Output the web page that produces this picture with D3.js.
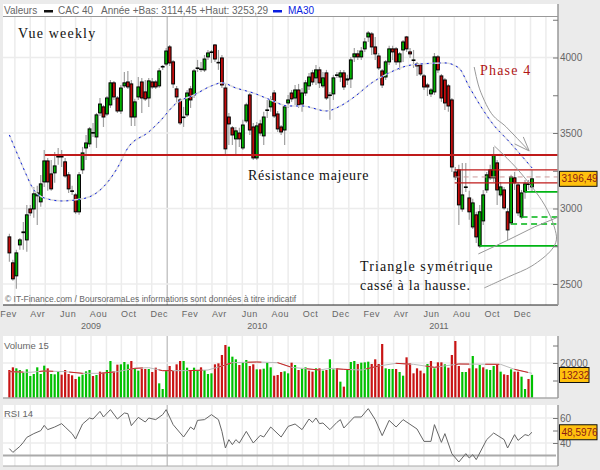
<!DOCTYPE html>
<html lang="fr">

<head>
    <meta charset="UTF-8">
    <title>CAC 40 - Vue weekly</title>
    <script src="https://cdnjs.cloudflare.com/ajax/libs/d3/7.8.5/d3.min.js"></script>
    <style>
        html, body { margin: 0; padding: 0; background: #ebebeb; }
        svg { display: block; }
        text { font-family: "Liberation Sans", Arial, sans-serif; fill: #666; }
        .note { font-family: "Liberation Serif", serif; font-size: 14px; fill: #111; }
        .axis path { display: none; }
        .axis line { stroke: #777; }
        .axis text { font-size: 10px; fill: #666; }
        .month text { font-size: 9px; letter-spacing: 0.5px; }
        .grid { stroke: #ececec; stroke-width: 1.5; }
        .wick { stroke: #a0a0a0; stroke-width: 1.2; }
        .body { stroke: #000; stroke-width: 1; }
        .hand { fill: none; stroke: #999; stroke-width: 1; }
    </style>
</head>

<body>
    <div id="chart"></div>

    <script>
        // bougies hebdo, une valeur par semaine depuis le 18 fev 2009
        const firstWeek = new Date(2009, 1, 18);
        const opens = [2812, 2640, 2554, 2759, 2840, 2792, 2997, 2997, 3084, 3044, 3176, 3315, 3229, 3236, 3342, 3345, 3309, 3223, 3117, 3090, 2978, 3256, 3401, 3428, 3500, 3474, 3633, 3673, 3626, 3686, 3832, 3732, 3646, 3812, 3838, 3825, 3606, 3739, 3838, 3772, 3732, 3838, 3838, 3812, 3938, 3957, 4070, 3971, 3792, 3719, 3606, 3620, 3792, 3752, 3931, 3924, 3918, 4004, 4037, 4083, 3968, 3997, 3798, 3606, 3534, 3461, 3500, 3401, 3580, 3752, 3540, 3335, 3560, 3481, 3653, 3673, 3765, 3626, 3540, 3520, 3699, 3765, 3732, 3785, 3692, 3765, 3812, 3898, 3865, 3918, 3812, 3898, 3752, 3759, 3885, 3871, 3898, 3851, 3858, 4004, 4024, 4004, 4057, 4136, 4156, 4070, 4010, 3911, 3871, 3971, 4057, 4057, 3971, 4050, 4136, 4037, 3984, 3957, 3951, 3878, 3818, 3759, 3772, 4004, 3878, 3851, 3812, 3719, 3242, 3256, 2997, 3143, 3070, 2878, 2958, 2752, 2918, 3123, 3256, 3203, 3302, 3090, 3123, 2978, 2905, 3203, 3156, 2944, 3110, 3163, 3143];
        const highs = [2832, 2660, 2726, 2805, 2911, 3024, 3024, 3143, 3150, 3222, 3388, 3335, 3322, 3375, 3401, 3388, 3335, 3242, 3150, 3103, 3242, 3408, 3487, 3540, 3567, 3633, 3732, 3686, 3745, 3851, 3845, 3745, 3818, 3904, 3911, 3851, 3726, 3871, 3865, 3851, 3865, 3865, 3851, 3931, 3951, 4063, 4083, 3984, 3812, 3732, 3673, 3785, 3812, 3924, 3984, 3971, 4017, 4050, 4050, 4090, 4050, 4017, 3825, 3633, 3547, 3540, 3534, 3587, 3700, 3765, 3567, 3573, 3587, 3640, 3719, 3745, 3785, 3646, 3553, 3686, 3752, 3785, 3818, 3825, 3798, 3851, 3898, 3918, 3951, 3938, 3904, 3918, 3772, 3885, 3904, 3918, 3918, 3885, 4004, 4063, 4050, 4070, 4129, 4176, 4169, 4136, 4030, 3924, 3984, 4077, 4077, 4070, 4037, 4116, 4143, 4063, 4050, 3971, 3964, 3891, 3832, 3798, 4030, 4017, 3891, 3865, 3825, 3732, 3275, 3289, 3302, 3302, 3117, 3064, 2978, 3024, 3123, 3242, 3289, 3408, 3322, 3176, 3143, 3004, 3223, 3242, 3170, 3123, 3189, 3189, 3253];
        const lows = [2647, 2521, 2468, 2726, 2726, 2713, 2951, 2938, 2891, 3011, 3143, 3117, 3117, 3170, 3289, 3275, 3203, 3103, 3090, 2964, 2958, 3229, 3322, 3408, 3474, 3401, 3613, 3540, 3613, 3666, 3719, 3633, 3626, 3798, 3792, 3547, 3547, 3719, 3633, 3712, 3673, 3792, 3792, 3798, 3918, 3944, 3944, 3798, 3706, 3553, 3540, 3606, 3666, 3732, 3904, 3904, 3904, 3984, 3964, 3971, 3918, 3798, 3355, 3421, 3421, 3355, 3408, 3388, 3567, 3487, 3322, 3322, 3481, 3421, 3600, 3640, 3600, 3507, 3487, 3421, 3666, 3706, 3686, 3666, 3640, 3745, 3785, 3818, 3818, 3798, 3798, 3719, 3587, 3719, 3865, 3838, 3785, 3818, 3798, 3971, 3984, 3984, 4037, 4103, 4017, 3984, 3918, 3798, 3851, 3951, 3984, 3951, 3918, 3971, 4037, 3997, 3931, 3878, 3878, 3785, 3745, 3739, 3752, 3898, 3706, 3653, 3640, 3242, 3189, 2891, 2978, 3110, 2925, 2865, 2772, 2739, 2891, 3103, 3189, 3176, 3024, 3077, 2991, 2792, 2891, 3123, 2951, 2931, 3064, 3123, 3114];
        const closes = [2706, 2534, 2706, 2792, 2845, 2958, 2971, 3097, 3103, 3163, 3315, 3176, 3130, 3282, 3345, 3342, 3216, 3130, 3114, 2978, 3223, 3368, 3434, 3527, 3503, 3620, 3692, 3606, 3732, 3832, 3739, 3646, 3798, 3832, 3805, 3606, 3706, 3805, 3732, 3726, 3845, 3805, 3805, 3911, 3941, 4043, 3964, 3825, 3739, 3567, 3606, 3765, 3719, 3911, 3931, 3924, 3990, 4030, 4037, 3990, 3964, 3818, 3395, 3560, 3487, 3514, 3461, 3553, 3686, 3520, 3335, 3547, 3500, 3606, 3653, 3719, 3613, 3527, 3507, 3673, 3719, 3726, 3785, 3686, 3765, 3832, 3871, 3838, 3918, 3832, 3865, 3732, 3752, 3865, 3885, 3898, 3805, 3858, 3984, 4024, 4004, 4043, 4103, 4162, 4070, 4024, 3931, 3818, 3971, 4057, 4037, 3971, 4024, 4103, 4057, 4024, 3984, 3944, 3891, 3805, 3805, 3785, 4004, 3918, 3732, 3699, 3679, 3275, 3209, 3024, 3090, 3143, 2978, 3037, 2812, 2978, 3090, 3223, 3203, 3355, 3123, 3143, 3004, 2858, 3209, 3170, 2971, 3103, 3163, 3163, 3196.49];

        // MA30 relevee sur quelques semaines
        const maWeeks = [0, 3, 4.5, 7, 10, 15, 21, 25, 28, 31, 34, 40, 43, 48, 53, 58, 61, 65, 70, 75, 80, 84, 91, 95, 99, 104, 109, 114, 118, 125, 129, 132, 135.4, 139, 143, 150];
        const maValues = [3487, 3322, 3242, 3123, 3070, 3050, 3064, 3103, 3169, 3269, 3401, 3507, 3573, 3699, 3752, 3812, 3832, 3798, 3765, 3719, 3679, 3679, 3646, 3679, 3739, 3832, 3898, 3944, 3957, 3964, 3931, 3805, 3673, 3553, 3454, 3269];

        const volumes = [16000, 17530, 16955, 16000, 14480, 16380, 12570, 13720, 17530, 13720, 18480, 16955, 13720, 13525, 15240, 13335, 16000, 13720, 12950, 10860, 12190, 13335, 15240, 16000, 12570, 13145, 15050, 14480, 16000, 21145, 15240, 19050, 19240, 20575, 19240, 21145, 16955, 15620, 16575, 16575, 16575, 14860, 17335, 8380, 5145, 15620, 18290, 15620, 19240, 21145, 21145, 17335, 15620, 17335, 15620, 17530, 16000, 13720, 14100, 19240, 19810, 24575, 30290, 29340, 23620, 22100, 18860, 20385, 21720, 18290, 19240, 16380, 16380, 16765, 20190, 17530, 12760, 13145, 14860, 15240, 14100, 20190, 18860, 16000, 16765, 17530, 15620, 15050, 16955, 16955, 15620, 16000, 22100, 16380, 16955, 9335, 6480, 16000, 20575, 21145, 19430, 20190, 20385, 20765, 19430, 22100, 19430, 30860, 16955, 16575, 16575, 16575, 14860, 12760, 23240, 19810, 14100, 16955, 15620, 14100, 19430, 21145, 16955, 20385, 20385, 19240, 17335, 24575, 32575, 18290, 14860, 14860, 16955, 24000, 16955, 18860, 17530, 16380, 16000, 18290, 18860, 15050, 13525, 13145, 16380, 15050, 15050, 12190, 5145, 10860, 13232];
        const volumeUp = [0, 0, 1, 1, 1, 1, 1, 1, 1, 1, 1, 0, 1, 1, 1, 0, 0, 0, 0, 0, 1, 1, 1, 1, 0, 1, 0, 0, 1, 1, 0, 0, 1, 1, 1, 0, 1, 1, 0, 0, 1, 0, 0, 1, 1, 1, 0, 0, 0, 0, 1, 1, 0, 1, 1, 0, 1, 1, 1, 0, 0, 0, 0, 1, 1, 1, 0, 1, 1, 0, 0, 1, 0, 1, 1, 1, 0, 0, 0, 1, 1, 0, 1, 0, 1, 1, 0, 0, 1, 0, 1, 0, 1, 1, 0, 1, 0, 1, 1, 1, 0, 1, 1, 1, 0, 0, 0, 0, 1, 1, 1, 0, 1, 1, 0, 0, 0, 0, 0, 0, 1, 0, 1, 0, 0, 1, 0, 0, 0, 0, 1, 1, 0, 1, 0, 1, 0, 1, 1, 1, 0, 1, 0, 0, 1, 0, 0, 1, 1, 0, 1];
        const volMaWeeks = [0, 6, 10, 16, 21, 26, 31, 36, 40, 44, 51, 57, 61, 64, 71, 77, 81, 84, 89, 92, 96, 101, 106, 111, 116, 122, 129, 141, 145, 150];
        const volMaValues = [15050, 14670, 15430, 15050, 14100, 14100, 15050, 16955, 17335, 15620, 15620, 16000, 18290, 20190, 20575, 20190, 17530, 16955, 16000, 16955, 16380, 16000, 18290, 19810, 19240, 17530, 19430, 19240, 16380, 14100];

        const rsiWeeks = [0, 1, 3, 4, 5, 7, 9, 10, 11, 13, 15, 16, 18, 19, 21, 23, 24, 26, 27, 29, 31, 33, 34, 35, 37, 39, 40, 42, 44, 45, 47, 50, 52, 53, 54, 56, 58, 60, 61, 62, 63, 64, 65, 66, 68, 70, 72, 73, 75, 78, 80, 82, 84, 86, 87, 88, 89, 90, 92, 94, 95, 96, 99, 101, 103, 105, 107, 109, 111, 113, 117, 119, 121, 122, 124, 125, 127, 129, 131, 132, 133, 134, 137, 139, 142, 143, 145, 146, 148, 149, 150];
        const rsiValues = [35.5, 32.5, 37.3, 40.5, 44.5, 47.5, 49.9, 54.1, 50.7, 52.8, 55.5, 52.8, 47.5, 43.2, 55.2, 60, 59.2, 65.3, 60.8, 66.7, 59.2, 64, 63.5, 53.9, 60.5, 56.8, 60, 58.7, 62.7, 66.7, 54.7, 44.8, 52.8, 50.7, 58.1, 58.7, 62.7, 58.7, 49.3, 36, 42.7, 38.7, 42.7, 40, 49.3, 40, 46.1, 44.8, 52.8, 44.8, 53.3, 55.2, 50.7, 59.2, 56.5, 60, 55.5, 56, 50.7, 56.5, 58.7, 52, 60.8, 60.8, 67.5, 58.7, 45.9, 58.1, 52.8, 58.7, 51.2, 41.3, 41.3, 54.7, 40.5, 47.5, 31.5, 24.8, 31.5, 28, 30.7, 26.7, 42.7, 48, 42.7, 36, 46.7, 42.1, 46.7, 45.9, 48.6];

        const priceTicks = [2500, 2750, 3000, 3250, 3500, 3750, 4000, 4250];
        const volumeTicks = [10000, 20000, 30000];
        const rsiTicks = [40, 50, 60];
        const monthNames = ["Jan", "Fev", "Mar", "Avr", "Mai", "Jun", "Jul", "Aou", "Sep", "Oct", "Nov", "Dec"];
        const years = [2009, 2010, 2011];
        const yearLabelMonths = [7, 6, 6];

        // traits a la main : [semaine debut, semaine fin, niveau]
        const redLevels = [[10.2, 160, 3355], [127.8, 160, 3256], [127.8, 160, 3170]];
        const pinkDashed = [[127.8, 160, 3209]];
        const greenLevels = [[135.1, 160, 2752], [148, 160, 3110]];
        const greenDashed = [[147, 160, 2944], [144, 157, 2898]];
        const phaseArrowWeeks = [133.4, 134.6, 136, 137.7, 142.6, 148.9];
        const phaseArrowPrices = [3937, 3818, 3732, 3653, 3540, 3388];
        const arrowHeadWeeks = [147.5, 149.2, 145];
        const arrowHeadPrices = [3474, 3381, 3428];
        const calloutWeeks = [139.2, 146, 153.6, 156.4, 157, 155.6, 150, 143.2, 136.3];
        const calloutPrices = [3414, 3256, 3024, 2878, 2792, 2726, 2620, 2547, 2474];
        const triangleWeeks = [134.6, 143.2, 150.7, 157.6];
        const trianglePrices = [2699, 2792, 2878, 2944];

        const width = 600, height = 470;
        const left = 3, right = 558;
        const mainTop = 17, mainBottom = 305;
        const volTop = 336, volBottom = 398;
        const rsiTop = 405, rsiBottom = 466;

        const upColor = "#00b400", downColor = "#c40c0c", lineRed = "#bf1a1a";

        const svg = d3.select("#chart").append("svg")
            .attr("width", width)
            .attr("height", height);

        const x = d3.scaleTime()
            .domain([new Date(2009, 0, 1), new Date(2012, 0, 1)])
            .range([-14.5, 530.5]);
        const weekDate = i => new Date(firstWeek.getTime() + i * 7 * 864e5);
        const xw = i => x(weekDate(i));

        const y = d3.scaleLinear().domain([2500, 4000]).range([284, 57.5]);
        const yVol = d3.scaleLinear().domain([0, 20000]).range([volBottom, 363]);
        const yRsi = d3.scaleLinear().domain([40, 60]).range([443, 418]);

        const defs = svg.append("defs");
        [["clip-main", 4, mainBottom], ["clip-vol", volTop, volBottom], ["clip-rsi", rsiTop, rsiBottom]].forEach(c => {
            defs.append("clipPath").attr("id", c[0]).append("rect")
                .attr("x", left).attr("y", c[1])
                .attr("width", right - left).attr("height", c[2] - c[1]);
        });

        // fonds blancs
        svg.append("rect").attr("x", left).attr("y", 4).attr("width", right - left).attr("height", mainBottom - 4).attr("fill", "#fff");
        svg.append("rect").attr("x", left).attr("y", volTop).attr("width", right - left).attr("height", volBottom - volTop).attr("fill", "#fff");
        svg.append("rect").attr("x", left).attr("y", rsiTop).attr("width", right - left).attr("height", rsiBottom - rsiTop).attr("fill", "#fff");

        // quadrillage vertical mensuel sur les trois panneaux
        const months = x.copy().domain([new Date(2009, 1, 1), new Date(2012, 1, 1)]).ticks(d3.timeMonth.every(1))
            .filter(d => x(d) > left && x(d) < right);
        [[mainTop, mainBottom], [volTop, volBottom], [rsiTop, rsiBottom]].forEach(p => {
            svg.append("g").selectAll("line").data(months).enter().append("line")
                .attr("class", "grid")
                .attr("x1", d => x(d)).attr("x2", d => x(d))
                .attr("y1", p[0]).attr("y2", p[1])
                .style("stroke", d => d.getFullYear() === 2010 && d.getMonth() === 0 ? "#aaa" : null)
                .style("stroke-width", d => d.getFullYear() === 2010 && d.getMonth() === 0 ? 1 : null);
        });

        // quadrillage horizontal
        const hGrid = (scale, values) => svg.append("g").selectAll("line").data(values).enter().append("line")
            .attr("class", "grid")
            .attr("x1", left).attr("x2", right)
            .attr("y1", d => scale(d)).attr("y2", d => scale(d));
        hGrid(y, [2500, 3000, 3500, 4000]);
        hGrid(yVol, [20000]);
        hGrid(yRsi, [40, 60]);

        // bougies
        const candles = svg.append("g").attr("clip-path", "url(#clip-main)")
            .selectAll("g").data(opens).enter().append("g");
        candles.append("line")
            .attr("class", "wick")
            .attr("x1", (d, i) => xw(i)).attr("x2", (d, i) => xw(i))
            .attr("y1", (d, i) => y(highs[i])).attr("y2", (d, i) => y(lows[i]));
        candles.append("rect")
            .attr("class", "body")
            .attr("x", (d, i) => xw(i) - 1.4)
            .attr("width", 2.8)
            .attr("y", (d, i) => y(Math.max(opens[i], closes[i])))
            .attr("height", (d, i) => Math.max(0.6, Math.abs(y(opens[i]) - y(closes[i]))))
            .attr("fill", (d, i) => closes[i] >= opens[i] ? upColor : downColor);

        const lineOf = (scale, weeks) => d3.line()
            .x((d, i) => xw(weeks[i]))
            .y(d => scale(d));

        // MA30
        const main = svg.append("g").attr("clip-path", "url(#clip-main)");
        main.append("path").datum(maValues)
            .attr("d", lineOf(y, maWeeks).curve(d3.curveMonotoneX))
            .attr("fill", "none").attr("stroke", "#ddd").attr("stroke-width", 1.5);
        main.append("path").datum(maValues)
            .attr("d", lineOf(y, maWeeks).curve(d3.curveMonotoneX))
            .attr("fill", "none").attr("stroke", "#0a1ee0").attr("stroke-width", 1)
            .attr("stroke-dasharray", "2 4");

        // traces manuels
        const level = (sel, rows, color, w, dash) => sel.append("g").selectAll("line").data(rows).enter().append("line")
            .attr("x1", d => xw(d[0])).attr("x2", d => xw(d[1]))
            .attr("y1", d => y(d[2])).attr("y2", d => y(d[2]))
            .attr("stroke", color).attr("stroke-width", w)
            .attr("stroke-dasharray", dash);
        level(main, redLevels.slice(0, 1), lineRed, 2, null);
        level(main, redLevels.slice(1), lineRed, 1.2, null);
        level(main, pinkDashed, "#c99", 1, "5 4");
        level(main, greenLevels, "#00b414", 1.8, null);
        level(main, greenDashed, "#00b414", 1.5, "6 4");

        main.append("path").datum(phaseArrowPrices).attr("class", "hand")
            .attr("d", lineOf(y, phaseArrowWeeks).curve(d3.curveMonotoneX));
        main.append("path").datum(arrowHeadPrices).attr("class", "hand")
            .attr("d", lineOf(y, arrowHeadWeeks));
        main.append("path").datum(calloutPrices).attr("class", "hand")
            .attr("d", lineOf(y, calloutWeeks).curve(d3.curveCatmullRom));
        main.append("path").datum(trianglePrices).attr("class", "hand")
            .attr("d", lineOf(y, triangleWeeks));

        // volume
        const vol = svg.append("g").attr("clip-path", "url(#clip-vol)");
        vol.selectAll("rect").data(volumes).enter().append("rect")
            .attr("x", (d, i) => xw(i) - 1.1)
            .attr("width", 2.2)
            .attr("y", d => yVol(d))
            .attr("height", d => yVol(0) - yVol(d))
            .attr("fill", (d, i) => volumeUp[i] ? "#00c000" : "#c81414");
        vol.append("path").datum(volMaValues)
            .attr("d", lineOf(yVol, volMaWeeks))
            .attr("fill", "none").attr("stroke", "#bbb").attr("stroke-width", 1);
        vol.append("path").datum(volMaValues)
            .attr("d", lineOf(yVol, volMaWeeks))
            .attr("fill", "none").attr("stroke", "#cc2222").attr("stroke-width", 1)
            .attr("stroke-dasharray", "14 16");

        // RSI
        const rsi = svg.append("g").attr("clip-path", "url(#clip-rsi)");
        rsi.append("line")
            .attr("x1", left).attr("x2", right - 2)
            .attr("y1", yRsi(30)).attr("y2", yRsi(30))
            .attr("stroke", "#aaa").attr("stroke-width", 2);
        rsi.append("path").datum(rsiValues)
            .attr("d", lineOf(yRsi, rsiWeeks))
            .attr("fill", "none").attr("stroke", "#666").attr("stroke-width", 1);

        // bords des panneaux
        const edge = (x1, x2, y1, y2, color, w) => svg.append("line")
            .attr("x1", x1).attr("x2", x2).attr("y1", y1).attr("y2", y2)
            .attr("stroke", color).attr("stroke-width", w);
        edge(left, right, mainTop - 0.5, mainTop - 0.5, "#999", 1);
        edge(left, right, mainBottom, mainBottom, "#222", 1);
        edge(left, right, volBottom, volBottom, "#aaa", 1.5);
        edge(left, right, rsiBottom, rsiBottom, "#aaa", 1);
        [[4, mainBottom], [volTop, volBottom], [rsiTop, rsiBottom]].forEach(p => edge(right, right, p[0], p[1], "#999", 1.5));

        // axes de droite
        const rightAxis = (scale, values, labels) => svg.append("g")
            .attr("class", "axis")
            .attr("transform", `translate(${right},0)`)
            .call(d3.axisRight(scale).tickValues(values).tickSize(-5).tickPadding(2)
                .tickFormat(d => labels.includes(d) ? d : ""));
        rightAxis(y, priceTicks, [2500, 3000, 3500, 4000]);
        rightAxis(yVol, volumeTicks, [20000]);
        rightAxis(yRsi, rsiTicks, [40, 60]);

        // axe du temps, libelle au milieu du mois
        const labelMonths = d3.range(0, 36, 2).map(k => new Date(2009, 1 + k, 15))
            .filter(d => x(d) < 530);
        svg.append("g")
            .attr("class", "axis month")
            .attr("transform", `translate(0,${mainBottom})`)
            .call(d3.axisBottom(x).tickValues(labelMonths).tickSize(0).tickPadding(6)
                .tickFormat(d => monthNames[d.getMonth()]));
        svg.append("g").selectAll("text").data(years).enter().append("text")
            .attr("x", (d, i) => x(new Date(d, yearLabelMonths[i], 1)))
            .attr("y", 329)
            .attr("text-anchor", "middle")
            .attr("font-size", 9)
            .text(d => d);

        // en-tete
        const header = svg.append("g").attr("font-size", 10);
        header.append("text").attr("x", 4).attr("y", 14).text("Valeurs");
        header.append("rect").attr("x", 44).attr("y", 10).attr("width", 9).attr("height", 2.5).attr("fill", "#111");
        header.append("text").attr("x", 58).attr("y", 14).text("CAC 40");
        header.append("text").attr("x", 101).attr("y", 14).text("Année +Bas: 3114,45 +Haut: 3253,29");
        header.append("rect").attr("x", 273).attr("y", 10).attr("width", 9).attr("height", 2.5).attr("fill", "#0a1ee0");
        header.append("text").attr("x", 288).attr("y", 14).style("fill", "#0a1ee0").text("MA30");

        // pied de page et titres de panneaux
        svg.append("text").attr("x", 5).attr("y", 302).attr("font-size", 8.5)
            .text("© IT-Finance.com / BoursoramaLes informations sont données à titre indicatif");
        svg.append("text").attr("x", 4).attr("y", 349).attr("font-size", 9.5).text("Volume 15");
        svg.append("text").attr("x", 4).attr("y", 417).attr("font-size", 9.5).text("RSI 14");

        // annotations
        const note = (tx, ty, label, color, spacing) => svg.append("text")
            .attr("class", "note")
            .attr("x", tx).attr("y", ty)
            .attr("letter-spacing", spacing)
            .style("fill", color)
            .text(label);
        note(18, 38, "Vue weekly", null, 1.2);
        note(480, 75, "Phase 4", "#b01515", 1.2);
        note(248, 180, "Résistance majeure", null, 0.7);
        note(360, 271, "Triangle symétrique", null, 1.1);
        note(360, 290, "cassé à la hausse.", null, 0.75);

        // dernieres valeurs
        const lastValue = (cy, w, label) => {
            svg.append("rect")
                .attr("x", 559.5).attr("y", cy - 7.5)
                .attr("width", w).attr("height", 15)
                .attr("fill", "#ffc10e").attr("stroke", "#111");
            svg.append("text")
                .attr("x", 561.5).attr("y", cy + 3.5)
                .attr("font-size", 10)
                .style("fill", "#8c1a14")
                .text(label);
        };
        lastValue(y(3196.49), 37.5, "3196,49");
        lastValue(375, 29.5, "13232");
        lastValue(yRsi(48.5976), 37.5, "48,5976");
    </script>
</body>

</html>
